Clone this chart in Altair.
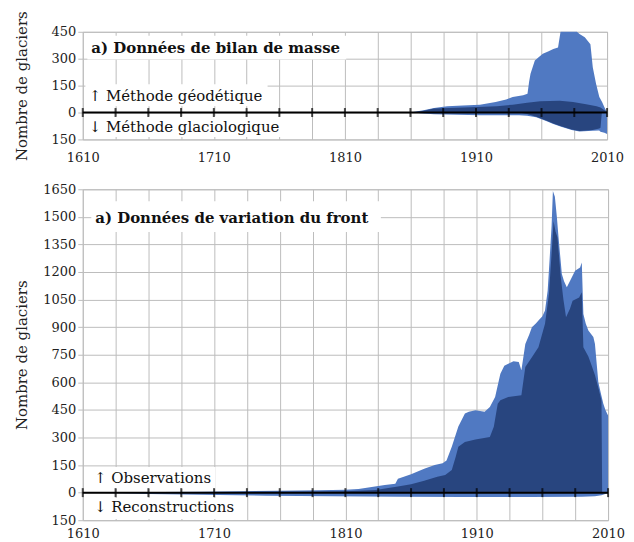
import altair as alt
import pandas as pd

FONT = "DejaVu Serif"
LIGHT = "#5079C2"
DARK = "#28457F"
GRID = "#bdbdbd"

# ---------------- Top panel: mass balance data ----------------
mb_geo_total_years = [1610, 1858, 1862, 1870, 1878, 1888, 1900, 1913, 1925, 1933, 1938, 1946, 1949.3, 1950.5,
                      1951.6, 1954.9, 1958, 1961, 1965, 1969, 1972.6, 1974.5, 1987, 1989, 1993, 1997.3,
                      1999.1, 2001.6, 2004.1, 2006.2, 2007.9, 2010]
mb_geo_total_vals = [0, 0, 3, 12, 25, 35, 39, 44, 59, 72, 87, 96, 105, 170,
                     216, 290, 310, 327, 340, 354, 363, 450, 450, 437, 419, 380,
                     253, 161, 87, 59, 31, 0]

mb_geo_sub_years = [1610, 1862, 1870, 1878, 1901, 1926, 1938, 1949, 1959, 1974, 1984, 1994, 2002, 2005, 2008, 2010]
mb_geo_sub_vals = [0, 0, 10, 22, 28, 35, 44, 54, 63, 65, 59, 46, 35, 28, 13, 0]

mb_glacio_total_years = [1610, 1862, 1870, 1878, 1913, 1943, 1949, 1956, 1964, 1969, 1975, 1983, 1989, 1999,
                         2004, 2005, 2008, 2010]
mb_glacio_total_vals = [0, 0, -5, -9, -15, -15, -18, -27, -49, -64, -79, -97, -106, -101,
                        -100, -107, -113, -120]

mb_glacio_sub_years = [1610, 1940, 1945, 1949, 1956, 1964, 1969, 1975, 1983, 1989, 1999, 2004, 2005, 2006]
mb_glacio_sub_vals = [0, 0, -3, -8, -24, -46, -61, -76, -94, -103, -98, -89, -85, 0]

# ---------------- Bottom panel: front variation data ----------------
fv_obs_total_years = [1610, 1640, 1670, 1700, 1730, 1760, 1790, 1810, 1820, 1830, 1840, 1848, 1850, 1860,
                      1870, 1878, 1884, 1887, 1891, 1896, 1901, 1904, 1909, 1916, 1920, 1924, 1928,
                      1931, 1934, 1938, 1942, 1944, 1947, 1950, 1952, 1955, 1957, 1960, 1962, 1964,
                      1965.5, 1967, 1968, 1969.5, 1971, 1972.3, 1974.8, 1976.5, 1978.6, 1981.1, 1984.9,
                      1988.7, 1990, 1991.2, 1993, 1995, 1998.8, 2000, 2002.6, 2004.5, 2006.4, 2008, 2010]
fv_obs_total_vals = [0, 1, 3, 5, 8, 10, 13, 16, 20, 30, 42, 48, 75, 100,
                     130, 150, 160, 175, 250, 360, 430, 440, 448, 440, 466, 520, 647,
                     690, 701, 715, 710, 665, 809, 860, 900, 920, 936, 960, 990, 1098,
                     1270, 1450, 1640, 1610, 1500, 1388, 1189, 1150, 1117, 1153, 1207,
                     1225, 1252, 972, 920, 882, 846, 810, 600, 540, 484, 450, 420]

fv_obs_sub_years = [1610, 1700, 1780, 1810, 1833, 1850, 1860, 1870, 1880, 1886, 1891, 1894, 1896, 1901,
                    1909, 1920, 1923, 1926, 1928, 1934, 1944, 1947, 1952, 1957, 1962, 1965, 1967,
                    1968.5, 1970, 1971.5, 1974, 1976, 1978, 1981, 1983, 1988, 1990, 1991.2, 1995,
                    1997, 2000, 2003, 2005, 2005.5, 2010]
fv_obs_sub_vals = [0, 2, 5, 8, 14, 33, 45, 65, 87, 96, 123, 195, 249, 276,
                   289, 303, 358, 484, 502, 520, 529, 683, 737, 791, 918, 1080, 1300,
                   1478, 1420, 1388, 1171, 1050, 954, 1000, 1044, 1062, 1090, 791, 740,
                   701, 640, 560, 500, 0, 0]

fv_rec_years = [1610, 1640, 1660, 1700, 1750, 1800, 1850, 1900, 1950, 1990, 2000, 2005, 2009, 2010]
fv_rec_vals = [0, -3, -7, -12, -17, -20, -23, -24, -24, -22, -20, -14, -5, 0]

# ---------------- Axis / annotation text ----------------
grid_years = list(range(1610, 2011, 25))
top_y_ticks = [-150, 0, 150, 300, 450]
bot_y_ticks = list(range(-150, 1651, 150))

top_texts = ["a) Données de bilan de masse", "↑ Méthode géodétique", "↓ Méthode glaciologique"]
top_text_x = [1616.5, 1614.5, 1614.5]
top_text_y = [334, 62, -109]
top_text_bold = [True, False, False]
top_box_x0 = [1613.5, 1612, 1612]
top_box_x1 = [1811, 1751, 1763]
top_box_y0 = [428, 157, -21]
top_box_y1 = [295, 35, -137]

bot_texts = ["a) Données de variation du front", "↑ Observations", "↓ Reconstructions"]
bot_text_x = [1619.5, 1618.5, 1618.5]
bot_text_y = [1467, 53, -105]
bot_text_bold = [True, False, False]
bot_box_x0 = [1616.5, 1616, 1616]
bot_box_x1 = [1837, 1711, 1728]
bot_box_y0 = [1585, 139, -29]
bot_box_y1 = [1417, 20, -143]


def panel(series, ymin, ymax, yticks, texts, tx, ty, tbold, bx0, bx1, by0, by1, width, height,
          xpad, tpad):
    x_enc = alt.X("year:Q", scale=alt.Scale(domain=[1610, 2010], nice=False, zero=False),
                  axis=alt.Axis(values=grid_years, format="d", title=None, ticks=False,
                                labelPadding=xpad, domain=False, labelFontSize=13, labelFlush=False,
                                labelExpr="(datum.value - 1610) % 100 == 0 ? datum.label : ''"))
    y_enc = alt.Y("n:Q", scale=alt.Scale(domain=[ymin, ymax], nice=False, zero=False),
                  axis=alt.Axis(values=yticks, title="Nombre de glaciers", domain=False,
                                titlePadding=tpad, labelExpr="'' + abs(datum.value)"))
    boxes = pd.DataFrame({"year": bx0, "year2": bx1, "n": by0, "n2": by1})
    layers = [
        alt.Chart(boxes).mark_rect(color="white").encode(x=x_enc, x2="year2:Q", y=y_enc, y2="n2:Q")
    ]
    for yrs, vals, col in series:
        df = pd.DataFrame({"year": yrs, "n": vals})
        layers.append(alt.Chart(df).mark_area(color=col, opacity=1).encode(x=x_enc, y=y_enc))
    layers.append(alt.Chart(pd.DataFrame({"n": [0]})).mark_rule(color="black", strokeWidth=2)
                  .encode(y=y_enc))
    ticks_df = pd.DataFrame({"year": grid_years, "n": [0] * len(grid_years)})
    layers.append(alt.Chart(ticks_df).mark_tick(orient="vertical", color="black", size=9, thickness=2)
                  .encode(x=x_enc, y=y_enc))
    tdf = pd.DataFrame({"year": tx, "n": ty, "t": texts, "b": tbold})
    layers.append(alt.Chart(tdf[tdf.b]).mark_text(font=FONT, fontSize=15, fontWeight="bold",
                                                  align="left", baseline="alphabetic", color="#111")
                  .encode(x=x_enc, y=y_enc, text="t:N"))
    layers.append(alt.Chart(tdf[~tdf.b]).mark_text(font=FONT, fontSize=15, align="left",
                                                   baseline="alphabetic", color="#111")
                  .encode(x=x_enc, y=y_enc, text="t:N"))
    return alt.layer(*layers).properties(width=width, height=height)


top = panel([(mb_geo_total_years, mb_geo_total_vals, LIGHT),
             (mb_glacio_total_years, mb_glacio_total_vals, LIGHT),
             (mb_geo_sub_years, mb_geo_sub_vals, DARK),
             (mb_glacio_sub_years, mb_glacio_sub_vals, DARK)],
            -150, 450, top_y_ticks, top_texts, top_text_x, top_text_y, top_text_bold,
            top_box_x0, top_box_x1, top_box_y0, top_box_y1, 526, 108, 12, 22)

bottom = panel([(fv_obs_total_years, fv_obs_total_vals, LIGHT),
                (fv_rec_years, fv_rec_vals, LIGHT),
                (fv_obs_sub_years, fv_obs_sub_vals, DARK)],
               -150, 1650, bot_y_ticks, bot_texts, bot_text_x, bot_text_y, bot_text_bold,
               bot_box_x0, bot_box_x1, bot_box_y0, bot_box_y1, 527, 332, 7, 13.5)

chart = alt.concat(top, bottom, columns=1, spacing=17, align="none").properties(
    padding={"left": 5, "top": 1, "right": 0, "bottom": 0}
).configure_axis(
    labelFont=FONT, labelFontSize=13, labelColor="#222",
    titleFont=FONT, titleFontSize=15, titleFontWeight="normal", titleColor="#222",
    gridColor=GRID, gridWidth=1, tickColor=GRID, tickSize=5
).configure_view(stroke=GRID)

chart.save("out.html", embed_options={"renderer": "svg", "actions": False})
